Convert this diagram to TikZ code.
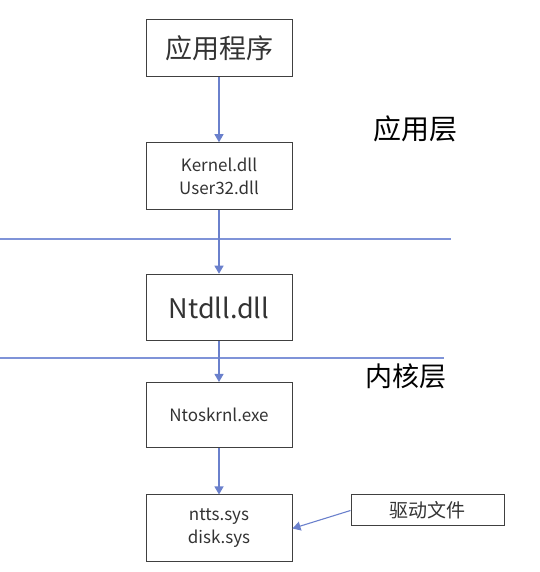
\documentclass[tikz,border=0pt]{standalone}
\usepackage{fontspec}
\setmainfont{Noto Sans CJK SC}
\usetikzlibrary{arrows.meta}
\definecolor{linkblue}{HTML}{6A80CC}
\definecolor{layerblue}{HTML}{7F93D8}
\definecolor{boxgray}{HTML}{404040}
\tikzset{
  modbox/.style={draw=boxgray, line width=1pt, minimum width=146pt, align=center, text=black!80},
  link/.style={draw=linkblue, line width=1.1pt, -{Triangle[width=9pt,length=8pt]}},
  layer/.style={draw=layerblue, line width=1.2pt}
}
\begin{document}
\begin{tikzpicture}[x=1pt, y=1pt]
  \useasboundingbox (0,0) rectangle (539,572);

  % Layer boundaries
  \draw[layer] (0,333) -- (451,333);
  \draw[layer] (0,214) -- (444,214);
  \node (userlayer) at (415,443) [font=\fontsize{28}{30}\selectfont] {应用层};
  \node (kernlayer) at (406,196) [font=\fontsize{27}{29}\selectfont] {内核层};

  % Call chain
  \node (app) at (219,523.5) [modbox, minimum height=57pt, font=\fontsize{27}{30}\selectfont] {应用程序};
  \node (kernel) at (219,396) [modbox, minimum height=66.5pt, font=\fontsize{17}{23}\selectfont] {Kernel.dll\\User32.dll};
  \node (ntdll) at (219,264.5) [modbox, minimum height=66.5pt, font=\fontsize{27}{30}\selectfont] {Ntdll.dll};
  \node (ntos) at (219,157) [modbox, minimum height=65pt, font=\fontsize{17}{23}\selectfont] {Ntoskrnl.exe};
  \node (drv) at (219,43.5) [modbox, minimum height=67pt, font=\fontsize{17}{23}\selectfont] {ntts.sys\\disk.sys};

  % Driver files
  \node (drvfile) at (427.5,61.5) [modbox, minimum width=153pt, minimum height=31pt, font=\fontsize{19}{21}\selectfont] {驱动文件};

  \draw[link] (app) -- (kernel);
  \draw[link] (kernel) -- (ntdll);
  \draw[link] (ntdll) -- (ntos);
  \draw[link] (ntos) -- (drv);
  \draw[link] (drvfile.west) -- (drv.east);

\end{tikzpicture}
\end{document}
